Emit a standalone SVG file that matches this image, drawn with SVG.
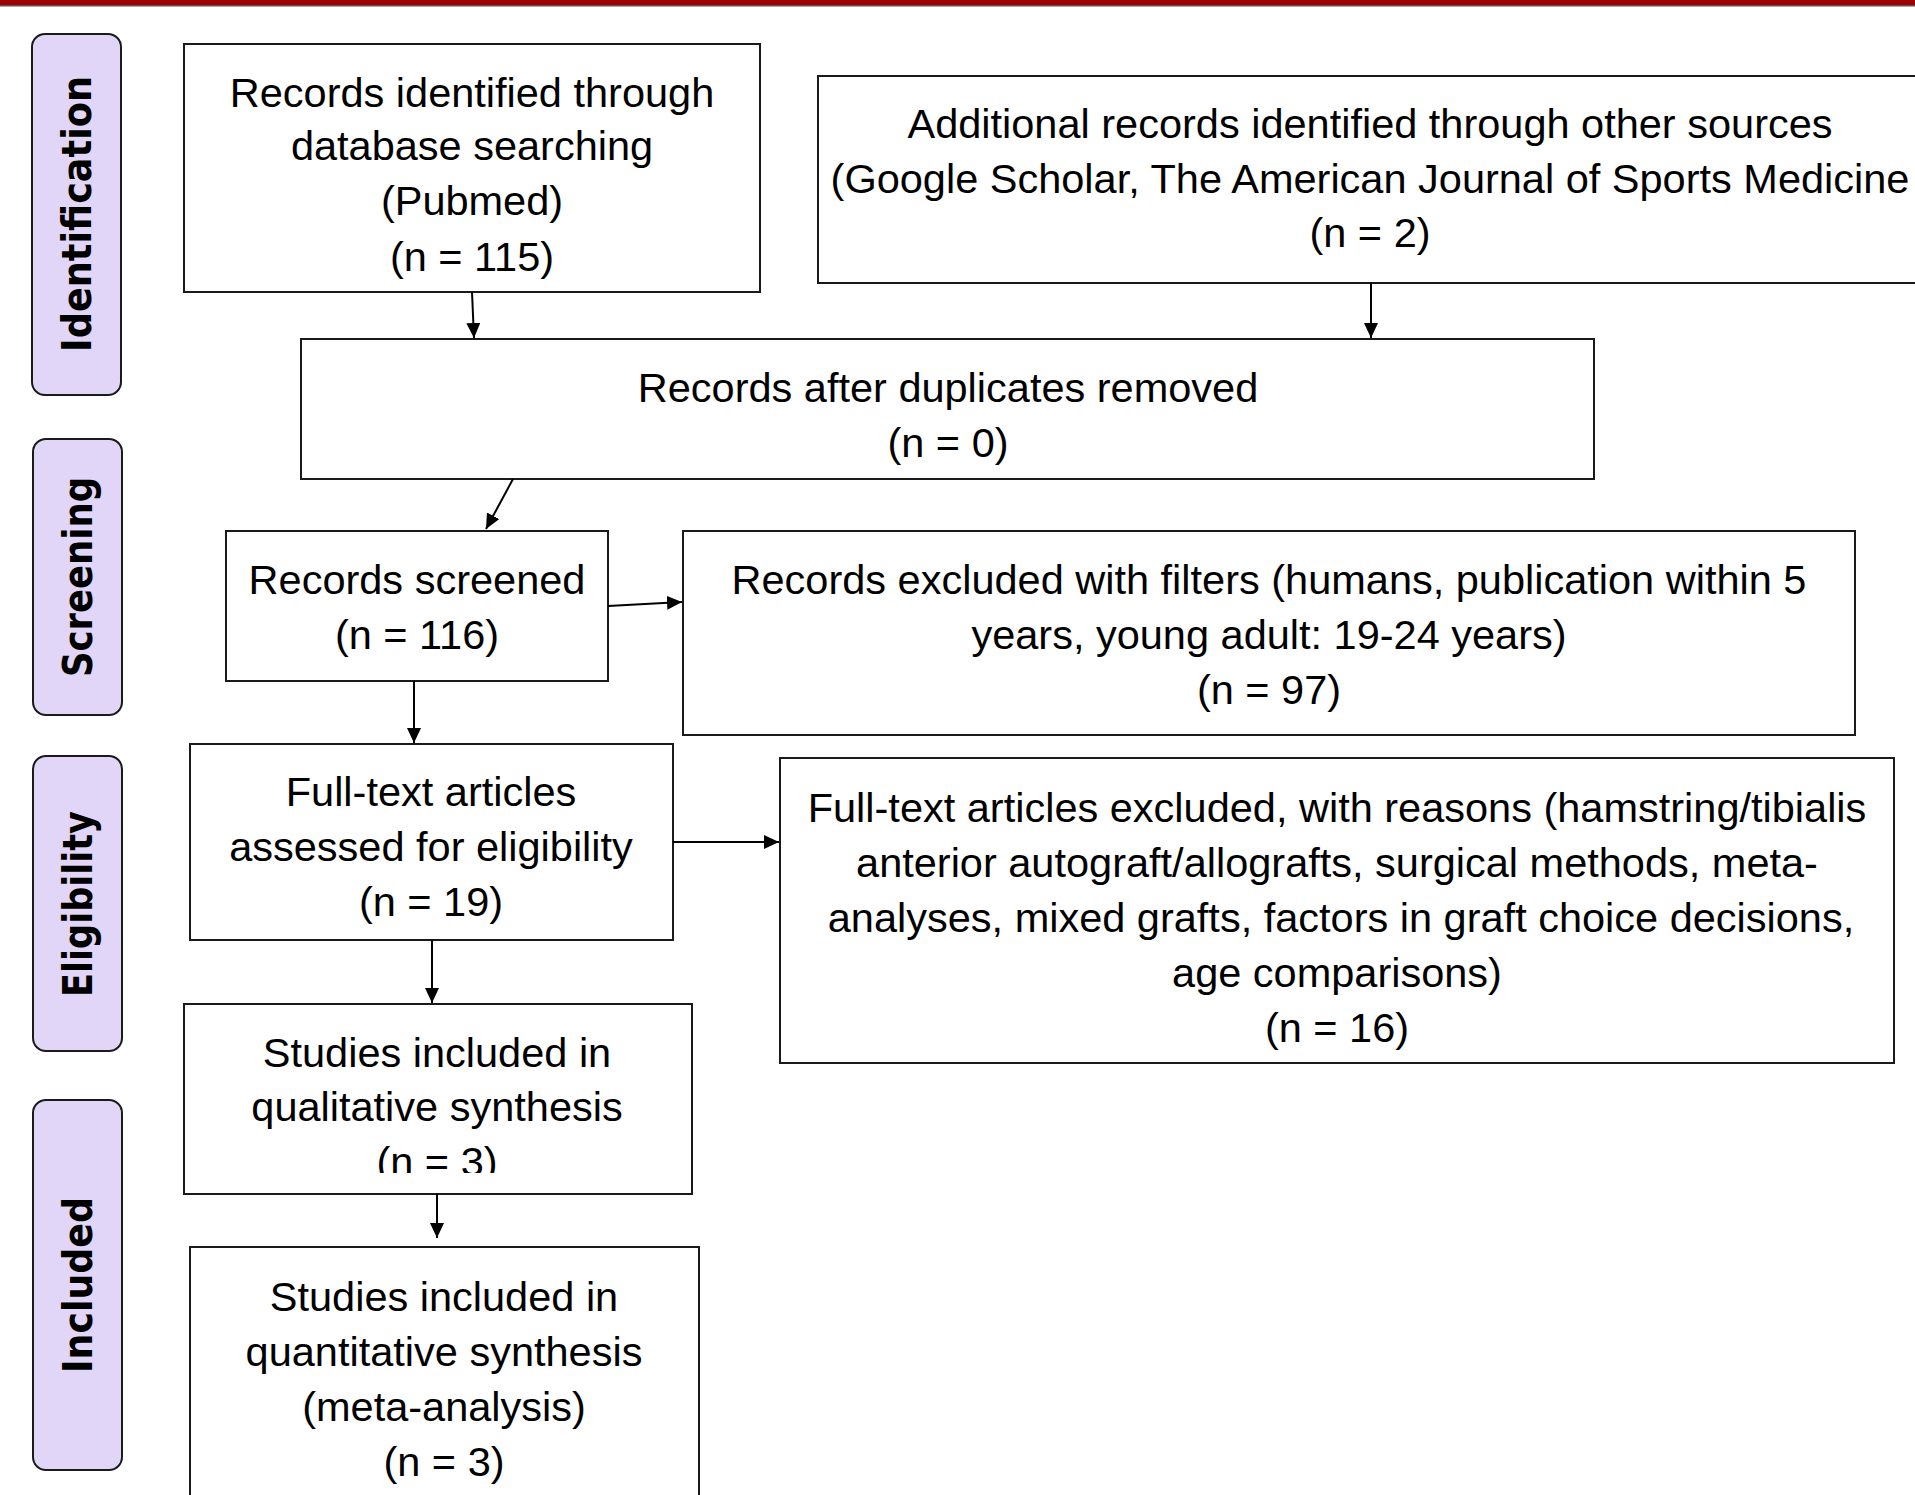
<svg xmlns="http://www.w3.org/2000/svg" width="1915" height="1495" viewBox="0 0 1915 1495">
<style>
.bg{fill:#ffffff}
.box{fill:#ffffff;stroke:#1a1a1a;stroke-width:2}
.side{fill:#e1d6f7;stroke:#1a1a1a;stroke-width:2}
.t{font-family:"Liberation Sans",Arial,sans-serif;font-size:41.5px;fill:#000;text-anchor:middle}
.st{font-family:"DejaVu Sans Condensed","DejaVu Sans",sans-serif;font-weight:bold;font-size:41px;fill:#000;text-anchor:middle}
.c{stroke:#000;stroke-width:2;fill:none;marker-end:url(#ah)}
</style>
<defs>
<marker id="ah" markerUnits="userSpaceOnUse" markerWidth="16" markerHeight="14" refX="15" refY="7" orient="auto">
<path d="M0,0 L15,7 L0,14 z" fill="#000"/>
</marker>
<clipPath id="clip8"><rect x="184" y="1005" width="507" height="168"/></clipPath>
</defs>
<rect class="bg" x="0" y="0" width="1915" height="1495"/>
<rect x="0" y="0" width="1915" height="5" fill="#a00000"/>
<rect x="0" y="5" width="1915" height="1.5" fill="#555"/>

<g id="side-identification">
<rect class="side" x="32" y="34" width="89" height="361" rx="13"/>
<text class="st" transform="translate(91,214) rotate(-90)" textLength="276" lengthAdjust="spacingAndGlyphs">Identification</text>
</g>
<g id="side-screening">
<rect class="side" x="33" y="439" width="89" height="276" rx="13"/>
<text class="st" transform="translate(92,577) rotate(-90)" textLength="200" lengthAdjust="spacingAndGlyphs">Screening</text>
</g>
<g id="side-eligibility">
<rect class="side" x="33" y="756" width="89" height="295" rx="13"/>
<text class="st" transform="translate(92,904) rotate(-90)" textLength="186" lengthAdjust="spacingAndGlyphs">Eligibility</text>
</g>
<g id="side-included">
<rect class="side" x="33" y="1100" width="89" height="370" rx="13"/>
<text class="st" transform="translate(92,1285) rotate(-90)" textLength="176" lengthAdjust="spacingAndGlyphs">Included</text>
</g>

<g id="n-db">
<rect class="box" x="184" y="44" width="576" height="248"/>
<text class="t" x="472" y="107">Records identified through</text>
<text class="t" x="472" y="160">database searching</text>
<text class="t" x="472" y="215">(Pubmed)</text>
<text class="t" x="472" y="271">(n = 115)</text>
</g>
<g id="n-other">
<rect class="box" x="818" y="76" width="1110" height="207"/>
<text class="t" x="1370" y="138">Additional records identified through other sources</text>
<text class="t" x="1370" y="193">(Google Scholar, The American Journal of Sports Medicine</text>
<text class="t" x="1370" y="247">(n = 2)</text>
</g>
<g id="n-dup">
<rect class="box" x="301" y="339" width="1293" height="140"/>
<text class="t" x="948" y="402">Records after duplicates removed</text>
<text class="t" x="948" y="457">(n = 0)</text>
</g>
<g id="n-screened">
<rect class="box" x="226" y="531" width="382" height="150"/>
<text class="t" x="417" y="594">Records screened</text>
<text class="t" x="417" y="649">(n = 116)</text>
</g>
<g id="n-excl1">
<rect class="box" x="683" y="531" width="1172" height="204"/>
<text class="t" x="1269" y="594">Records excluded with filters (humans, publication within 5</text>
<text class="t" x="1269" y="649">years, young adult: 19-24 years)</text>
<text class="t" x="1269" y="704">(n = 97)</text>
</g>
<g id="n-fulltext">
<rect class="box" x="190" y="744" width="483" height="196"/>
<text class="t" x="431" y="806">Full-text articles</text>
<text class="t" x="431" y="861">assessed for eligibility</text>
<text class="t" x="431" y="916">(n = 19)</text>
</g>
<g id="n-excl2">
<rect class="box" x="780" y="758" width="1114" height="305"/>
<text class="t" x="1337" y="822">Full-text articles excluded, with reasons (hamstring/tibialis</text>
<text class="t" x="1337" y="877">anterior autograft/allografts, surgical methods, meta-</text>
<text class="t" x="1341" y="932">analyses, mixed grafts, factors in graft choice decisions,</text>
<text class="t" x="1337" y="987">age comparisons)</text>
<text class="t" x="1337" y="1042">(n = 16)</text>
</g>
<g id="n-qual">
<rect class="box" x="184" y="1004" width="508" height="190"/>
<text class="t" x="437" y="1067">Studies included in</text>
<text class="t" x="437" y="1121">qualitative synthesis</text>
<text class="t" x="437" y="1176" clip-path="url(#clip8)">(n = 3)</text>
</g>
<g id="n-quant">
<rect class="box" x="190" y="1247" width="509" height="260"/>
<text class="t" x="444" y="1311">Studies included in</text>
<text class="t" x="444" y="1366">quantitative synthesis</text>
<text class="t" x="444" y="1421">(meta-analysis)</text>
<text class="t" x="444" y="1476">(n = 3)</text>
</g>

<g id="connectors">
<line class="c" x1="472" y1="292" x2="474" y2="338"/>
<line class="c" x1="1371" y1="283" x2="1371" y2="338"/>
<line class="c" x1="513" y1="479" x2="486" y2="529"/>
<line class="c" x1="608" y1="606" x2="682" y2="602"/>
<line class="c" x1="414" y1="681" x2="414" y2="743"/>
<line class="c" x1="673" y1="842" x2="779" y2="842"/>
<line class="c" x1="432" y1="940" x2="432" y2="1003"/>
<line class="c" x1="437" y1="1194" x2="437" y2="1238"/>
</g>
</svg>
